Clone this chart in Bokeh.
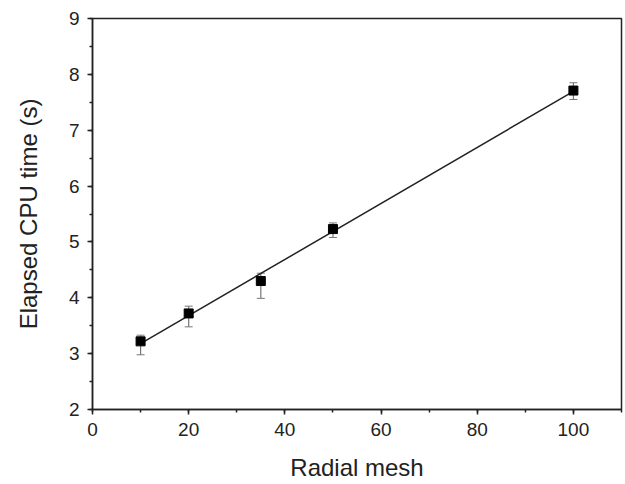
import numpy as np
from bokeh.plotting import figure
from bokeh.models import ColumnDataSource, Whisker, SingleIntervalTicker, Range1d
from bokeh.embed import file_html
from bokeh.resources import INLINE

radial_mesh = [10, 20, 35, 50, 100]
cpu_time = [3.22, 3.72, 4.30, 5.23, 7.71]
err_upper = [3.33, 3.85, 4.44, 5.34, 7.85]
err_lower = [2.98, 3.48, 3.99, 5.08, 7.55]

slope, intercept = np.polyfit(radial_mesh, cpu_time, 1)
fit_x = [min(radial_mesh), max(radial_mesh)]
fit_y = [slope * v + intercept for v in fit_x]

p = figure(width=625, height=484, output_backend="svg", toolbar_location=None,
           x_range=Range1d(0, 110), y_range=Range1d(2, 9),
           min_border_left=92, min_border_right=4, min_border_top=18, min_border_bottom=75)
p.xgrid.visible = False
p.ygrid.visible = False
p.outline_line_color = "#222222"
p.outline_line_width = 1.5
p.background_fill_color = "white"
p.border_fill_color = "white"

src = ColumnDataSource(dict(x=radial_mesh, y=cpu_time, upper=err_upper, lower=err_lower))

p.line(fit_x, fit_y, line_color="#222222", line_width=1.5)
w = Whisker(source=src, base="x", upper="upper", lower="lower",
            line_color="#777777", line_width=1.2)
w.upper_head.size = 8
w.lower_head.size = 8
w.upper_head.line_color = "#777777"
w.lower_head.line_color = "#777777"
p.add_layout(w)
p.scatter("x", "y", source=src, marker="square", size=9, fill_color="black", line_color="black")

p.xaxis.ticker = SingleIntervalTicker(interval=20, num_minor_ticks=2)
p.yaxis.ticker = SingleIntervalTicker(interval=1, num_minor_ticks=2)
p.xaxis.axis_label = "Radial mesh"
p.yaxis.axis_label = "Elapsed CPU time (s)"

for ax in (p.xaxis, p.yaxis):
    ax.axis_line_color = "#222222"
    ax.axis_line_width = 1.5
    ax.major_tick_line_color = "#222222"
    ax.minor_tick_line_color = "#222222"
    ax.major_tick_line_width = 1.5
    ax.minor_tick_line_width = 1.5
    ax.major_tick_out = 5
    ax.major_tick_in = 0
    ax.minor_tick_out = 3
    ax.minor_tick_in = 0
    ax.major_label_text_font = "Liberation Sans"
    ax.major_label_text_font_size = "19px"
    ax.major_label_text_color = "#222222"
    ax.axis_label_text_font = "Liberation Sans"
    ax.axis_label_text_font_size = "24px"
    ax.axis_label_text_font_style = "normal"
    ax.axis_label_text_color = "#222222"

p.xaxis.major_label_standoff = 8
p.yaxis.major_label_standoff = 8
p.xaxis.axis_label_standoff = 15
p.yaxis.axis_label_standoff = 24

open("out.html", "w").write(file_html(p, INLINE))
